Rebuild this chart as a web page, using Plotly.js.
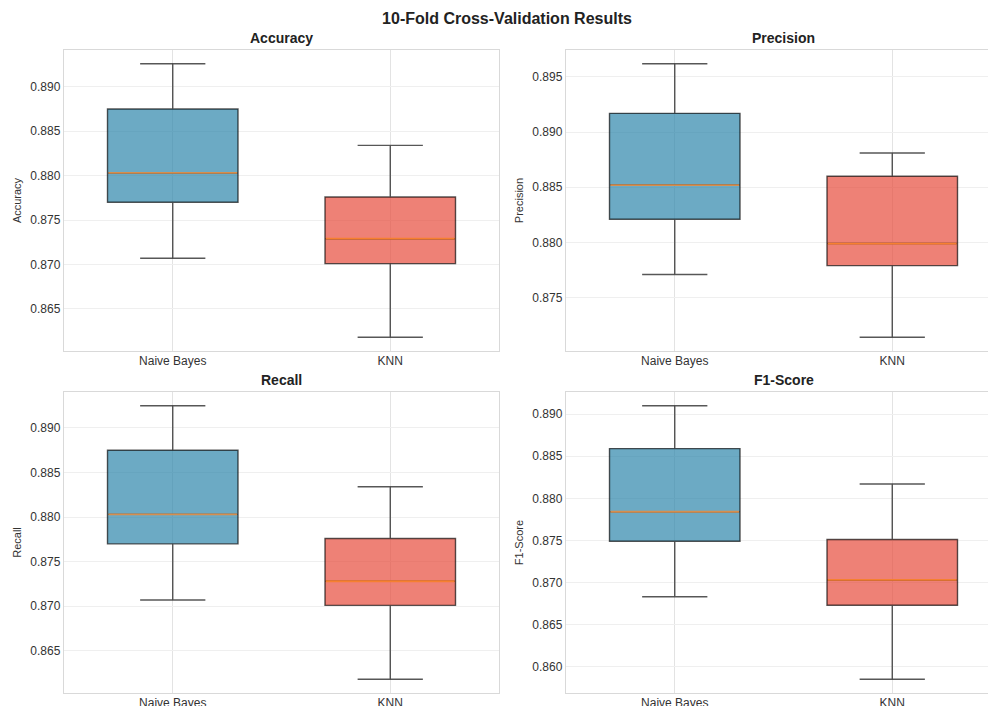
<!DOCTYPE html>
<html>
<head>
<meta charset="utf-8">
<script src="https://cdn.plot.ly/plotly-3.0.1.min.js"></script>
<style>html,body{margin:0;padding:0;background:#fff;}#chart{width:988px;height:706px;}</style>
</head>
<body>
<div id="chart"></div>
<script>
const models = ['Naive Bayes', 'KNN'];
const metrics = ['Accuracy', 'Precision', 'Recall', 'F1-Score'];

const accuracyLower  = [0.8707, 0.8618];
const accuracyQ1     = [0.8770, 0.8701];
const accuracyMedian = [0.8803, 0.8729];
const accuracyQ3     = [0.8875, 0.8776];
const accuracyUpper  = [0.8926, 0.8834];

const precisionLower  = [0.8771, 0.8714];
const precisionQ1     = [0.8821, 0.8779];
const precisionMedian = [0.8852, 0.8799];
const precisionQ3     = [0.8917, 0.8860];
const precisionUpper  = [0.8962, 0.8881];

const recallLower  = [0.8707, 0.8618];
const recallQ1     = [0.8770, 0.8701];
const recallMedian = [0.8803, 0.8728];
const recallQ3     = [0.8875, 0.8776];
const recallUpper  = [0.8925, 0.8834];

const f1Lower  = [0.8683, 0.8585];
const f1Q1     = [0.8749, 0.8673];
const f1Median = [0.8784, 0.8703];
const f1Q3     = [0.8859, 0.8751];
const f1Upper  = [0.8910, 0.8817];

const stats = [
  {lower: accuracyLower, q1: accuracyQ1, median: accuracyMedian, q3: accuracyQ3, upper: accuracyUpper},
  {lower: precisionLower, q1: precisionQ1, median: precisionMedian, q3: precisionQ3, upper: precisionUpper},
  {lower: recallLower, q1: recallQ1, median: recallMedian, q3: recallQ3, upper: recallUpper},
  {lower: f1Lower, q1: f1Q1, median: f1Median, q3: f1Q3, upper: f1Upper}
];

const fills = ['rgba(46,134,171,0.70)', 'rgba(231,76,60,0.70)'];
const medianColors = ['rgb(214,142,78)', 'rgb(246,128,48)'];
const boxWidth = 0.6;

// left panels span 64..499 px; right panels span 566..1001 px (clipped at 988)
const leftDom = [64/988, 499/988];
const rightDom = [566/988, 1.0];
const rightRangeEnd = -0.5 + 2 * (988 - 566) / (1001 - 566);
const xDomains = [leftDom, rightDom, leftDom, rightDom];
const xRanges = [[-0.5, 1.5], [-0.5, rightRangeEnd], [-0.5, 1.5], [-0.5, rightRangeEnd]];
const titleX = [281.5/988, 783.5/988, 281.5/988, 783.5/988];
const yDomains = [[1-351/706, 1-50/706], [1-351/706, 1-50/706], [1-693/706, 1-392/706], [1-693/706, 1-392/706]];

const data = [];
const shapes = [];
const annotations = [];
const layout = {
  width: 988, height: 706,
  margin: {l: 0, r: 0, t: 0, b: 0},
  paper_bgcolor: '#ffffff', plot_bgcolor: '#ffffff',
  showlegend: false,
  font: {family: 'Liberation Sans, Arial, sans-serif', size: 12, color: '#333'},
  title: {text: '<b>10-Fold Cross-Validation Results</b>', x: 507/988, xanchor: 'center', y: 1 - 18/706, yanchor: 'middle',
          font: {size: 16, color: '#222', family: 'Liberation Sans, Arial, sans-serif'}},
  shapes: shapes,
  annotations: annotations
};

metrics.forEach((m, k) => {
  const s = stats[k];
  const xa = k === 0 ? 'x' : 'x' + (k + 1);
  const ya = k === 0 ? 'y' : 'y' + (k + 1);
  models.forEach((mod, i) => {
    data.push({
      type: 'box',
      x: [mod],
      q1: [s.q1[i]], median: [s.median[i]], q3: [s.q3[i]],
      lowerfence: [s.lower[i]], upperfence: [s.upper[i]],
      width: boxWidth,
      whiskerwidth: 0.5,
      fillcolor: fills[i],
      line: {color: 'rgba(0,0,0,0.66)', width: 1.4},
      boxpoints: false,
      hoverinfo: 'skip',
      xaxis: xa, yaxis: ya
    });
    shapes.push({
      type: 'line', xref: xa, yref: ya, layer: 'above',
      x0: i - boxWidth/2 + 0.004, x1: i + boxWidth/2 - 0.004,
      y0: s.median[i], y1: s.median[i],
      line: {color: medianColors[i], width: 1.8}
    });
  });
  const allVals = s.lower.concat(s.upper);
  const lo = Math.min.apply(null, allVals), hi = Math.max.apply(null, allVals);
  const pad = (hi - lo) * 0.05;
  const xKey = k === 0 ? 'xaxis' : 'xaxis' + (k + 1);
  const yKey = k === 0 ? 'yaxis' : 'yaxis' + (k + 1);
  const isRight = (k % 2 === 1);
  layout[xKey] = {
    domain: xDomains[k], anchor: ya, type: 'category',
    categoryorder: 'array', categoryarray: models,
    range: xRanges[k],
    showgrid: true, gridcolor: '#e3e3e3', gridwidth: 1,
    showline: true, mirror: true, linecolor: '#d9d9d9', linewidth: 1.2,
    ticks: '', ticklabelstandoff: -2, tickfont: {size: 12, color: '#333'},
    zeroline: false, fixedrange: true
  };
  layout[yKey] = {
    domain: yDomains[k], anchor: xa,
    range: [lo - pad, hi + pad],
    dtick: 0.005, tickformat: '.3f',
    showgrid: true, gridcolor: '#efefef', gridwidth: 1,
    showline: true, mirror: !isRight, linecolor: '#d9d9d9', linewidth: 1.2,
    ticks: '', tickfont: {size: 12, color: '#333'},
    zeroline: false, fixedrange: true,
    title: {text: m, standoff: 6, font: {size: 11, color: '#333', family: 'Liberation Sans Narrow, Liberation Sans, Arial, sans-serif'}}
  };
  annotations.push({
    text: '<b>' + m + '</b>', xref: 'paper', yref: 'paper',
    x: titleX[k], xanchor: 'center',
    y: yDomains[k][1], yanchor: 'bottom', yshift: 2, showarrow: false,
    font: {size: 14, color: '#222', family: 'Liberation Sans, Arial, sans-serif'}
  });
});

Plotly.newPlot('chart', data, layout, {displayModeBar: false, staticPlot: true});
</script>
</body>
</html>
